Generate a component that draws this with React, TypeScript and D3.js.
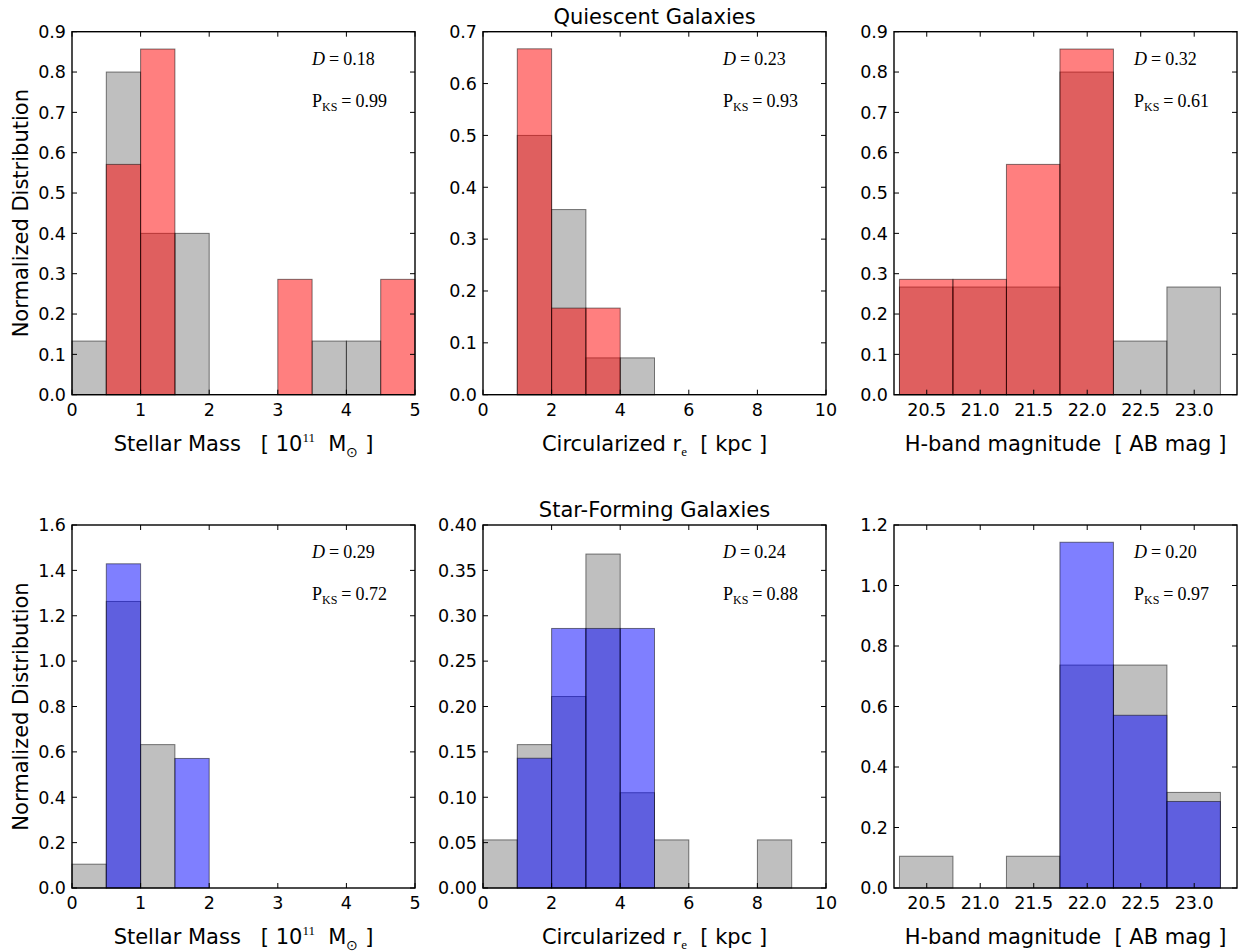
import React, { useRef, useEffect } from "react";
import * as d3 from "d3";

// bin edges
const massBins = [0, 0.5, 1, 1.5, 2, 2.5, 3, 3.5, 4, 4.5, 5];
const reBins = [0, 1, 2, 3, 4, 5, 6, 7, 8, 9, 10];
const hmagBins = [20.245, 20.745, 21.245, 21.745, 22.245, 22.745, 23.245];

// quiescent galaxies (gray = parent sample, red = subsample)
const qMassAll = [0.133, 0.8, 0.4, 0.4, 0, 0, 0, 0.133, 0.133, 0];
const qMassSub = [0, 0.571, 0.857, 0, 0, 0, 0.286, 0, 0, 0.286];
const qReAll = [0, 0.5, 0.357, 0.071, 0.071, 0, 0, 0, 0, 0];
const qReSub = [0, 0.667, 0.167, 0.167, 0, 0, 0, 0, 0, 0];
const qHAll = [0.267, 0.267, 0.267, 0.8, 0.133, 0.267];
const qHSub = [0.286, 0.286, 0.571, 0.857, 0, 0];

// star-forming galaxies (gray = parent sample, blue = subsample)
const sfMassAll = [0.105, 1.263, 0.632, 0, 0, 0, 0, 0, 0, 0];
const sfMassSub = [0, 1.429, 0, 0.571, 0, 0, 0, 0, 0, 0];
const sfReAll = [0.053, 0.158, 0.211, 0.368, 0.105, 0.053, 0, 0, 0.053, 0];
const sfReSub = [0, 0.143, 0.286, 0.286, 0.286, 0, 0, 0, 0, 0];
const sfHAll = [0.105, 0, 0.105, 0.737, 0.737, 0.316];
const sfHSub = [0, 0, 0, 1.143, 0.571, 0.286];

// KS stats
const ksD = ["0.18", "0.23", "0.32", "0.29", "0.24", "0.20"];
const ksP = ["0.99", "0.93", "0.61", "0.72", "0.88", "0.97"];

// axis ticks
const massTicks = [0, 1, 2, 3, 4, 5];
const reTicks = [0, 2, 4, 6, 8, 10];
const hmagTicks = [20.5, 21.0, 21.5, 22.0, 22.5, 23.0];

const W = 1238;
const H = 952;
const colX = [72, 483, 894];
const rowY = [31.7, 525];
const PW = 343;
const PH = 363;

const SANS = "DejaVu Sans";
const SERIF = "Liberation Serif";

export default function App() {
  const svgRef = useRef(null);

  useEffect(() => {
    const svg = d3.select(svgRef.current);
    svg.selectAll("*").remove();

    const panels = [
      { bins: massBins, all: qMassAll, sub: qMassSub, color: "#ff0000", xd: [0, 5], xt: massTicks, xf: d3.format("d"), yd: [0, 0.9], yt: d3.range(0, 0.91, 0.1), yf: d3.format(".1f"), label: "mass" },
      { bins: reBins, all: qReAll, sub: qReSub, color: "#ff0000", xd: [0, 10], xt: reTicks, xf: d3.format("d"), yd: [0, 0.7], yt: d3.range(0, 0.71, 0.1), yf: d3.format(".1f"), label: "re" },
      { bins: hmagBins, all: qHAll, sub: qHSub, color: "#ff0000", xd: [20.194, 23.4], xt: hmagTicks, xf: d3.format(".1f"), yd: [0, 0.9], yt: d3.range(0, 0.91, 0.1), yf: d3.format(".1f"), label: "h" },
      { bins: massBins, all: sfMassAll, sub: sfMassSub, color: "#0000ff", xd: [0, 5], xt: massTicks, xf: d3.format("d"), yd: [0, 1.6], yt: d3.range(0, 1.61, 0.2), yf: d3.format(".1f"), label: "mass" },
      { bins: reBins, all: sfReAll, sub: sfReSub, color: "#0000ff", xd: [0, 10], xt: reTicks, xf: d3.format("d"), yd: [0, 0.4], yt: d3.range(0, 0.401, 0.05), yf: d3.format(".2f"), label: "re" },
      { bins: hmagBins, all: sfHAll, sub: sfHSub, color: "#0000ff", xd: [20.194, 23.4], xt: hmagTicks, xf: d3.format(".1f"), yd: [0, 1.2], yt: d3.range(0, 1.21, 0.2), yf: d3.format(".1f"), label: "h" },
    ];

    panels.forEach((p, i) => {
      const ox = colX[i % 3];
      const oy = rowY[Math.floor(i / 3)];
      const g = svg.append("g").attr("transform", `translate(${ox},${oy})`);

      const x = d3.scaleLinear().domain(p.xd).range([0, PW]);
      const y = d3.scaleLinear().domain(p.yd).range([PH, 0]);

      // histograms: gray first, colour on top
      const drawHist = (vals, fill) => {
        const rows = vals
          .map((v, k) => ({ v, x0: p.bins[k], x1: p.bins[k + 1] }))
          .filter((d) => d.v > 0);
        g.append("g")
          .selectAll("rect")
          .data(rows)
          .join("rect")
          .attr("x", (d) => x(d.x0))
          .attr("y", (d) => y(d.v))
          .attr("width", (d) => x(d.x1) - x(d.x0))
          .attr("height", (d) => y(0) - y(d.v))
          .attr("fill", fill)
          .attr("fill-opacity", 0.5)
          .attr("stroke", "#000")
          .attr("stroke-opacity", 0.5)
          .attr("stroke-width", 1);
      };
      drawHist(p.all, "#808080");
      drawHist(p.sub, p.color);

      // ticks on all four sides, pointing inward
      const tk = 5;
      const ticksG = g.append("g").attr("stroke", "#000").attr("stroke-width", 1);
      p.xt.forEach((t) => {
        ticksG.append("line").attr("x1", x(t)).attr("x2", x(t)).attr("y1", PH).attr("y2", PH - tk);
        ticksG.append("line").attr("x1", x(t)).attr("x2", x(t)).attr("y1", 0).attr("y2", tk);
      });
      p.yt.forEach((t) => {
        ticksG.append("line").attr("x1", 0).attr("x2", tk).attr("y1", y(t)).attr("y2", y(t));
        ticksG.append("line").attr("x1", PW).attr("x2", PW - tk).attr("y1", y(t)).attr("y2", y(t));
      });

      // frame
      g.append("rect")
        .attr("width", PW)
        .attr("height", PH)
        .attr("fill", "none")
        .attr("stroke", "#000")
        .attr("stroke-width", 1.4);

      // tick labels
      g.append("g")
        .selectAll("text")
        .data(p.xt)
        .join("text")
        .attr("x", (d) => x(d))
        .attr("y", PH + 21)
        .attr("text-anchor", "middle")
        .attr("font-family", SANS)
        .attr("font-size", 17.5)
        .text((d) => p.xf(d));

      g.append("g")
        .selectAll("text")
        .data(p.yt)
        .join("text")
        .attr("x", -6)
        .attr("y", (d) => y(d))
        .attr("dy", "0.36em")
        .attr("text-anchor", "end")
        .attr("font-family", SANS)
        .attr("font-size", 17.5)
        .text((d) => p.yf(d));

      // KS annotation
      const ann = g.append("text")
        .attr("x", 240)
        .attr("y", 33)
        .attr("font-family", SERIF)
        .attr("font-size", 18);
      ann.append("tspan").attr("font-style", "italic").text("D");
      ann.append("tspan").attr("dx", 4).text("=");
      ann.append("tspan").attr("dx", 4).text(ksD[i]);

      const pks = g.append("text")
        .attr("x", 240)
        .attr("y", 75)
        .attr("font-family", SERIF)
        .attr("font-size", 18);
      pks.append("tspan").text("P");
      pks.append("tspan").attr("font-size", 12).attr("dy", 4).text("KS");
      pks.append("tspan").attr("dy", -4).attr("dx", 4).text("=");
      pks.append("tspan").attr("dx", 4).text(ksP[i]);

      // x axis label
      const xl = g.append("text")
        .attr("x", PW / 2)
        .attr("y", PH + 56)
        .attr("text-anchor", "middle")
        .attr("font-family", SANS)
        .attr("font-size", 21)
        .attr("xml:space", "preserve");
      if (p.label === "mass") {
        xl.append("tspan").text("Stellar Mass   [ 10");
        xl.append("tspan").attr("font-family", SERIF).attr("font-size", 13).attr("dy", -9).text("11");
        xl.append("tspan").attr("dy", 9).text("  M");
        xl.append("tspan").attr("font-family", SERIF).attr("font-size", 14).attr("dy", 6).text("\u2299");
        xl.append("tspan").attr("dy", -6).text(" ]");
      } else if (p.label === "re") {
        xl.append("tspan").text("Circularized r");
        xl.append("tspan").attr("font-family", SERIF).attr("font-size", 13).attr("dy", 5).text("e");
        xl.append("tspan").attr("dy", -5).text("  [ kpc ]");
      } else {
        xl.append("tspan").text("H-band magnitude  [ AB mag ]");
      }

      // y axis label on the left column only
      if (i % 3 === 0) {
        svg.append("text")
          .attr("transform", `translate(28,${oy + PH / 2}) rotate(-90)`)
          .attr("text-anchor", "middle")
          .attr("font-family", SANS)
          .attr("font-size", 21)
          .text("Normalized Distribution");
      }

      // row titles above the middle column
      if (i % 3 === 1) {
        g.append("text")
          .attr("x", PW / 2)
          .attr("y", -8)
          .attr("text-anchor", "middle")
          .attr("font-family", SANS)
          .attr("font-size", 21)
          .text(i === 1 ? "Quiescent Galaxies" : "Star-Forming Galaxies");
      }
    });
  }, []);

  return (
    <div style={{ position: "absolute", left: 0, top: 0 }}>
      <svg ref={svgRef} width={W} height={H} style={{ display: "block", background: "#fff" }} />
    </div>
  );
}
